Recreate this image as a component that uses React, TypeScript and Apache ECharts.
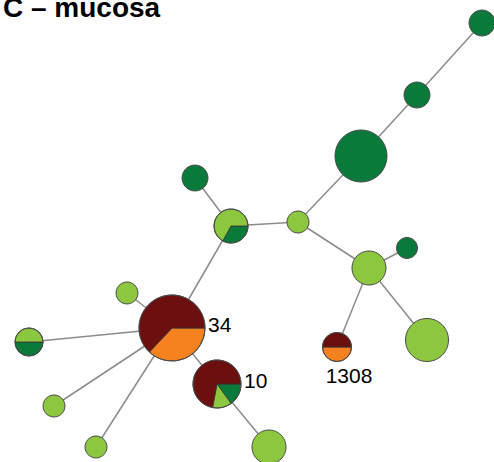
import React, { useEffect, useRef } from "react";
import * as echarts from "echarts";

const W = 494;
const H = 462;

const title = "C – mucosa";

// node layout (pixel space of the figure) and node size
const nodeX = [482, 417, 361, 195, 231, 298, 369, 407, 427, 127, 172, 29, 337, 217, 54, 96, 269];
const nodeY = [23, 95, 156, 178, 226, 222, 268, 248, 340, 293, 328, 342, 347, 384, 406, 447, 447];
const nodeR = [13, 13, 26, 13, 17, 11, 17, 10.5, 21.5, 11, 33, 14, 14.5, 24, 11, 11, 17];
const nodeLabel = ["", "", "", "", "", "", "", "", "", "", "34", "", "1308", "10", "", "", ""];
const labelPos = ["", "", "", "", "", "", "", "", "", "", "right", "", "bottom", "right", "", "", ""];

// composition of each node (fractions), drawn clockwise from east in this order
const orange = [0, 0, 0, 0, 0, 0, 0, 0, 0, 0, 0.37, 0, 0.5, 0, 0, 0, 0];
const darkGreen = [1, 1, 1, 1, 0.33, 0, 0, 1, 0, 0, 0, 0.5, 0, 0.15, 0, 0, 0];
const lightGreen = [0, 0, 0, 0, 0.67, 1, 1, 0, 1, 1, 0, 0.5, 0, 0.13, 1, 1, 1];
const darkRed = [0, 0, 0, 0, 0, 0, 0, 0, 0, 0, 0.63, 0, 0.5, 0.72, 0, 0, 0];

const categoryColors = ["#f5821f", "#0a7a3b", "#8dc63f", "#6b0f0f"];

// edges (source, target)
const edgeSource = [0, 1, 2, 5, 4, 4, 5, 6, 6, 6, 10, 10, 10, 10, 10, 13];
const edgeTarget = [1, 2, 5, 4, 3, 10, 6, 7, 8, 12, 9, 11, 14, 15, 13, 16];

export default function App() {
  const ref = useRef<HTMLDivElement>(null);
  useEffect(() => {
    if (!ref.current) return;
    const chart = echarts.init(ref.current, null, { renderer: "svg" });
    const cats = [orange, darkGreen, lightGreen, darkRed];
    const nodesData = nodeX.map((x, i) => [x, nodeY[i], nodeR[i]]);
    const option: any = {
      animation: false,
      backgroundColor: "#ffffff",
      title: {
        text: title,
        left: -2,
        top: -12,
        textStyle: {
          fontFamily: "Liberation Sans, Arial, sans-serif",
          fontWeight: "bold",
          fontSize: 28,
          color: "#000",
        },
      },
      grid: { left: 0, right: 0, top: 0, bottom: 0 },
      xAxis: { type: "value", min: 0, max: W, show: false },
      yAxis: { type: "value", min: 0, max: H, inverse: true, show: false },
      series: [
        {
          type: "graph",
          coordinateSystem: "cartesian2d",
          layout: "none",
          symbol: "none",
          symbolSize: 0,
          z: 1,
          data: nodeX.map((x, i) => ({ name: "n" + i, value: [x, nodeY[i]] })),
          links: edgeSource.map((s, i) => ({ source: s, target: edgeTarget[i] })),
          lineStyle: { color: "#8c8c8c", width: 1.5, opacity: 1, curveness: 0 },
          label: { show: false },
          silent: true,
        },
        {
          type: "custom",
          coordinateSystem: "cartesian2d",
          z: 5,
          data: nodesData,
          renderItem: (params: any, api: any) => {
            const i = params.dataIndex;
            const p = api.coord([api.value(0), api.value(1)]);
            const r = api.value(2);
            const children: any[] = [];
            let a = 0;
            const slices: { v: number; c: string }[] = [];
            cats.forEach((arr, k) => {
              if (arr[i] > 0) slices.push({ v: arr[i], c: categoryColors[k] });
            });
            if (slices.length === 1) {
              children.push({
                type: "circle",
                shape: { cx: p[0], cy: p[1], r },
                style: { fill: slices[0].c, stroke: "none" },
              });
            } else {
              slices.forEach((s) => {
                const e = a + s.v * Math.PI * 2;
                children.push({
                  type: "sector",
                  shape: { cx: p[0], cy: p[1], r0: 0, r, startAngle: a, endAngle: e, clockwise: true },
                  style: { fill: s.c, stroke: "#333333", lineWidth: 0.8 },
                });
                a = e;
              });
            }
            children.push({
              type: "circle",
              shape: { cx: p[0], cy: p[1], r },
              style: { fill: "none", stroke: "#4a4a4a", lineWidth: 1 },
            });
            const lbl = nodeLabel[i];
            if (lbl) {
              const pos = labelPos[i];
              children.push({
                type: "text",
                style: {
                  text: lbl,
                  x: pos === "right" ? p[0] + r + 3 : p[0] + 12,
                  y: pos === "right" ? p[1] - 4 : p[1] + r + 14,
                  align: pos === "right" ? "left" : "center",
                  verticalAlign: "middle",
                  fontSize: 21,
                  fontFamily: "Liberation Sans, Arial, sans-serif",
                  fill: "#000",
                },
              });
            }
            return { type: "group", children };
          },
        },
      ],
    };
    chart.setOption(option);
    return () => chart.dispose();
  }, []);
  return (
    <div
      ref={ref}
      style={{ position: "fixed", left: 0, top: 0, width: W, height: H, background: "#fff" }}
    />
  );
}
